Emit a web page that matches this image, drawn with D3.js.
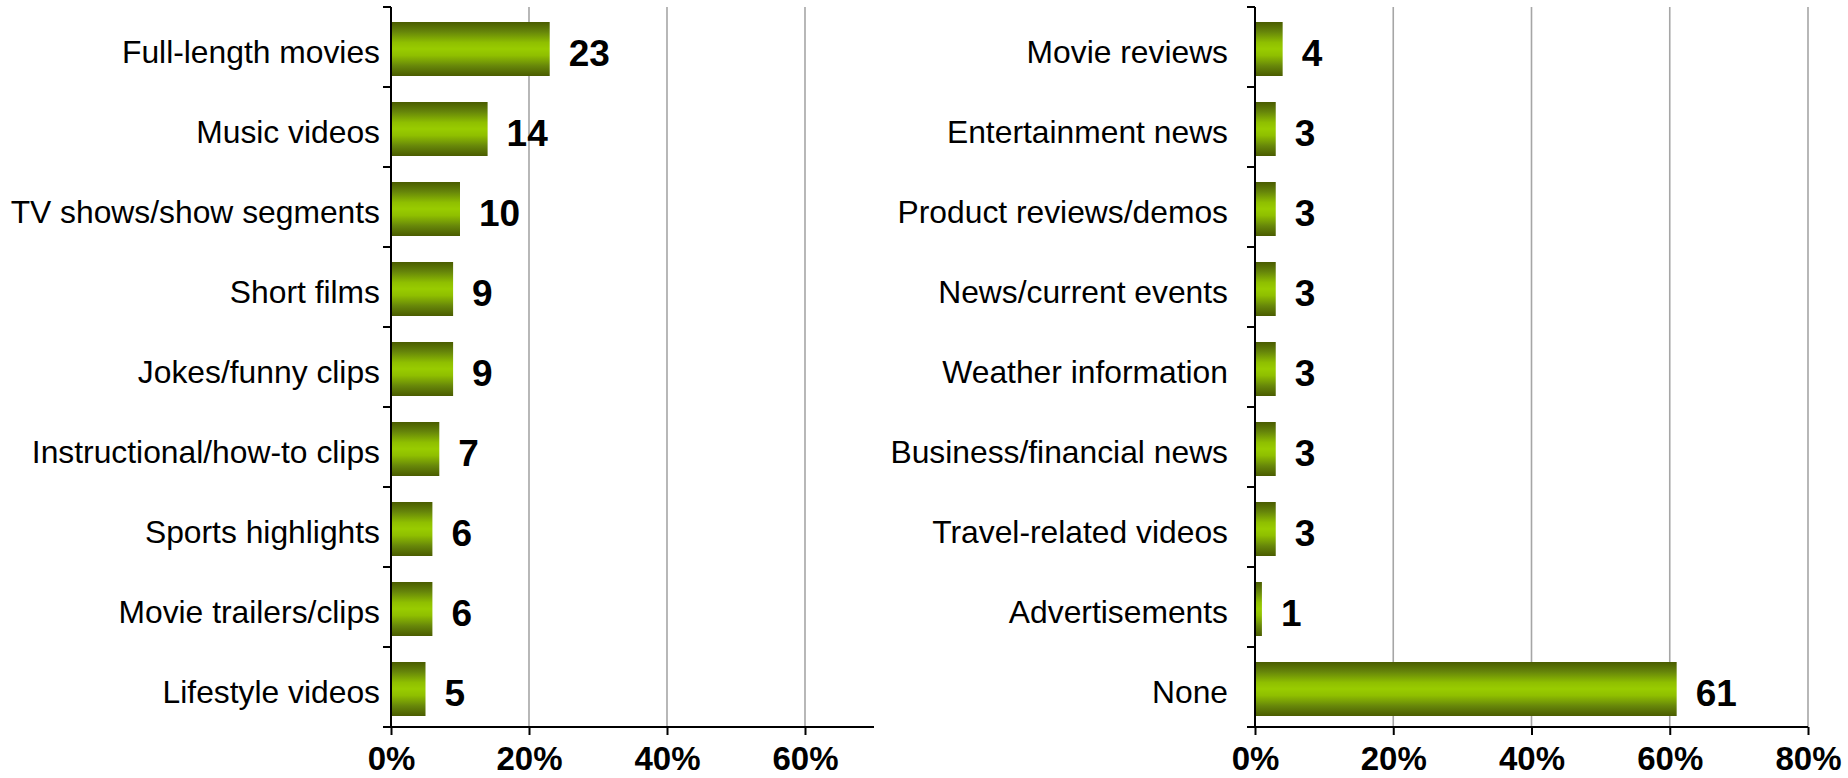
<!DOCTYPE html>
<html>
<head>
<meta charset="utf-8">
<script src="https://cdn.jsdelivr.net/npm/d3@7"></script>
<style>
  html, body { margin: 0; padding: 0; background: #fff; }
  svg { display: block; }
  text { font-family: Arial, "Liberation Sans", sans-serif; fill: #000; }
</style>
</head>
<body>
<svg id="chart" width="1848" height="778"></svg>
<script>
// Online video content watched (% of respondents)
const leftCategories = [
  "Full-length movies", "Music videos", "TV shows/show segments", "Short films",
  "Jokes/funny clips", "Instructional/how-to clips", "Sports highlights",
  "Movie trailers/clips", "Lifestyle videos"
];
const leftValues = [23, 14, 10, 9, 9, 7, 6, 6, 5];

const rightCategories = [
  "Movie reviews", "Entertainment news", "Product reviews/demos",
  "News/current events", "Weather information", "Business/financial news",
  "Travel-related videos", "Advertisements", "None"
];
const rightValues = [4, 3, 3, 3, 3, 3, 3, 1, 61];

const leftTicks = [0, 20, 40, 60];
const rightTicks = [0, 20, 40, 60, 80];

const svg = d3.select("#chart");

// vertical green gradient shared by all bars
const defs = svg.append("defs");
const grad = defs.append("linearGradient")
  .attr("id", "barGrad").attr("x1", 0).attr("y1", 0).attr("x2", 0).attr("y2", 1);
[
  [0, "#4a5c00"], [0.18, "#66850a"], [0.38, "#8fbf00"], [0.5, "#99cc00"],
  [0.62, "#8fbf00"], [0.82, "#66850a"], [1, "#4a5c00"]
].forEach(([o, c]) => grad.append("stop").attr("offset", o).attr("stop-color", c));

function panel(cfg) {
  const { categories, values, ticks, x0, x1, max, labelGap } = cfg;
  const top = 7, bottom = 727;

  const x = d3.scaleLinear().domain([0, max]).range([x0, x1]);
  const y = d3.scaleBand().domain(categories).range([top, bottom])
    .paddingInner(0.325).paddingOuter(0.1625);

  const g = svg.append("g");

  // vertical gridlines
  g.selectAll("line.grid").data(ticks.filter(t => t > 0)).join("line")
    .attr("class", "grid")
    .attr("x1", d => x(d)).attr("x2", d => x(d))
    .attr("y1", top).attr("y2", bottom)
    .attr("stroke", "#a6a6a6").attr("stroke-width", 1.6);

  // bars
  g.selectAll("rect.bar").data(values).join("rect")
    .attr("class", "bar")
    .attr("x", x(0))
    .attr("y", (d, i) => y(categories[i]) + 2)
    .attr("width", d => x(d) - x(0))
    .attr("height", y.bandwidth())
    .attr("fill", "url(#barGrad)");

  // value labels
  g.selectAll("text.val").data(values).join("text")
    .attr("class", "val")
    .attr("x", d => x(d) + 19)
    .attr("y", (d, i) => y(categories[i]) + 2 + y.bandwidth() / 2 + 17)
    .attr("font-size", 37).attr("font-weight", "bold")
    .text(d => d);

  // category labels
  g.selectAll("text.cat").data(categories).join("text")
    .attr("class", "cat")
    .attr("x", x(0) - labelGap)
    .attr("y", d => y(d) + 2 + y.bandwidth() / 2 + 14)
    .attr("text-anchor", "end")
    .attr("font-size", 31.8)
    .text(d => d);

  // y axis with ticks on category boundaries
  const bounds = d3.range(categories.length + 1).map(i => top + i * y.step());
  g.append("line")
    .attr("x1", x(0)).attr("x2", x(0)).attr("y1", top).attr("y2", bottom)
    .attr("stroke", "#000").attr("stroke-width", 2);
  g.selectAll("line.ytick").data(bounds).join("line")
    .attr("class", "ytick")
    .attr("x1", x(0) - 8).attr("x2", x(0)).attr("y1", d => d).attr("y2", d => d)
    .attr("stroke", "#000").attr("stroke-width", 2);

  // x axis
  const xAxis = g.append("g")
    .attr("transform", `translate(0,${bottom})`)
    .call(d3.axisBottom(x).tickValues(ticks).tickSize(8).tickPadding(12)
      .tickFormat(d => d + "%"));
  xAxis.select(".domain").attr("d", `M${x(0) - 8},0H${x(max)}`)
    .attr("stroke", "#000").attr("stroke-width", 2);
  xAxis.selectAll(".tick line").attr("stroke", "#000").attr("stroke-width", 2);
  xAxis.selectAll(".tick text")
    .attr("font-size", 33).attr("font-weight", "bold")
    .attr("font-family", "Arial, 'Liberation Sans', sans-serif")
    .attr("fill", "#000");
}

panel({ categories: leftCategories, values: leftValues, ticks: leftTicks,
        x0: 391, x1: 874, max: 70, labelGap: 11 });
panel({ categories: rightCategories, values: rightValues, ticks: rightTicks,
        x0: 1255, x1: 1808, max: 80, labelGap: 27 });
</script>
</body>
</html>
